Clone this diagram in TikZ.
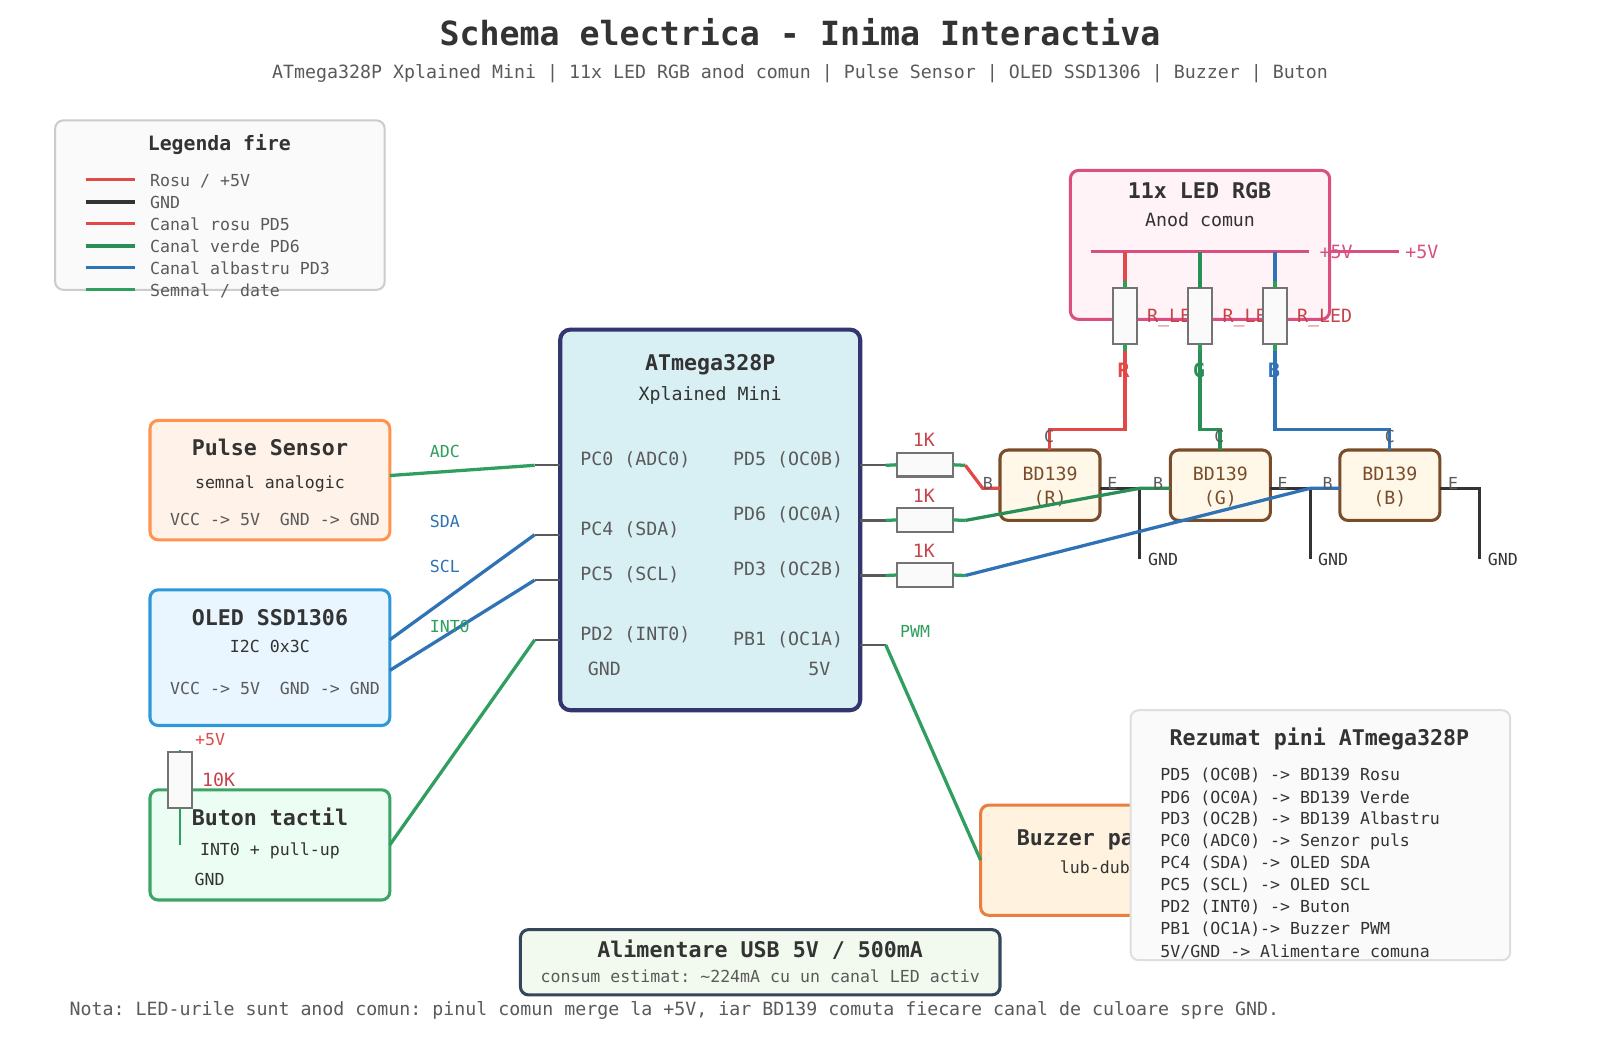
\documentclass[tikz,border=0pt]{standalone}
\usepackage{fontspec}
\setmainfont{DejaVu Sans Mono}
\usetikzlibrary{calc,positioning}
\definecolor{ink}{HTML}{333333}
\definecolor{graytxt}{HTML}{5A5A5A}
\definecolor{wirered}{HTML}{E24848}
\definecolor{wiregreen}{HTML}{2A8F57}
\definecolor{datagreen}{HTML}{2F9E5F}
\definecolor{wireblue}{HTML}{2F72B5}
\definecolor{labred}{HTML}{C5444A}
\definecolor{pinkline}{HTML}{D94F82}
\definecolor{brownline}{HTML}{7A4D2A}
\definecolor{mcunavy}{HTML}{33356F}
\definecolor{mcufill}{HTML}{D8F0F3}
\definecolor{pulseline}{HTML}{FF9350}
\definecolor{pulsefill}{HTML}{FFF2E8}
\definecolor{oledline}{HTML}{2E98D8}
\definecolor{oledfill}{HTML}{E9F6FF}
\definecolor{buttonline}{HTML}{3DA468}
\definecolor{buttonfill}{HTML}{ECFDF3}
\definecolor{buzzline}{HTML}{E97F3E}
\definecolor{buzzfill}{HTML}{FFF3E0}
\definecolor{ledfill}{HTML}{FFF3F8}
\definecolor{bdfill}{HTML}{FFF8E8}
\definecolor{alimline}{HTML}{34465A}
\definecolor{alimfill}{HTML}{F2F9EE}
\definecolor{panelfill}{HTML}{FAFAFA}
\tikzset{
  box/.style={draw, rounded corners=8pt, line width=3pt, inner sep=0pt, outer sep=0pt},
  res/.style={draw=black!55, fill=panelfill, line width=2.2pt, inner sep=0pt, outer sep=0pt},
  wire/.style={line width=3.2pt},
  stub/.style={line width=3.2pt, datagreen},
  pin/.style={line width=2.2pt, graytxt},
  head/.style={anchor=base, inner sep=0pt, text=ink, font=\bfseries\fontsize{21.2}{24}\selectfont},
  mid/.style={anchor=base, inner sep=0pt, font=\fontsize{17.9}{21}\selectfont},
  sm/.style={anchor=base, inner sep=0pt, font=\fontsize{16.25}{19}\selectfont},
}
\begin{document}
\frenchspacing
\begin{tikzpicture}[x=1pt,y=-1pt]
\useasboundingbox (0,0) rectangle (1568,1029);
\fill[white] (0,0) rectangle (1568,1029);
% title
\node[anchor=base, inner sep=0pt, text=ink, font=\bfseries\fontsize{32.6}{36}\selectfont] (title) at (784,45) {Schema electrica - Inima Interactiva};
\node[mid, text=graytxt] (subtitle) at (784,77) {ATmega328P Xplained Mini | 11x LED RGB anod comun | Pulse Sensor | OLED SSD1306 | Buzzer | Buton};
% legend
\node[box, draw=black!20, fill=panelfill, line width=2pt, minimum width=323pt, minimum height=166pt] (legendbox) at (215.5,201) {};
\node[head, font=\bfseries\fontsize{19.4}{23}\selectfont] (legendtitle) at (215,147.5) {Legenda fire};
\draw[wire, wirered] (84,176) -- (132,176);
\node[sm, anchor=base west, text=graytxt] (leg1) at (147,182.6) {Rosu / +5V};
\draw[wire, ink] (84,198) -- (132,198);
\node[sm, anchor=base west, text=graytxt] (leg2) at (147,204.3) {GND};
\draw[wire, wirered] (84,219) -- (132,219);
\node[sm, anchor=base west, text=graytxt] (leg3) at (147,225.6) {Canal rosu PD5};
\draw[wire, wiregreen] (84,241) -- (132,241);
\node[sm, anchor=base west, text=graytxt] (leg4) at (147,247.5) {Canal verde PD6};
\draw[wire, wireblue] (84,262.5) -- (132,262.5);
\node[sm, anchor=base west, text=graytxt] (leg5) at (147,269) {Canal albastru PD3};
\draw[wire, datagreen] (84,284) -- (132,284);
\node[sm, anchor=base west, text=graytxt] (leg6) at (147,290.6) {Semnal / date};
% left modules
\node[box, draw=pulseline, fill=pulsefill, minimum width=235pt, minimum height=117pt] (pulse) at (264.5,470.5) {};
\node[head] (pulsetitle) at (264.5,446.5) {Pulse Sensor};
\node[sm, text=ink] (pulsesub) at (264.5,479) {semnal analogic};
\node[sm, text=graytxt] (pulsepwr) at (269.5,515) {VCC -> 5V\ \ GND -> GND};
\node[box, draw=oledline, fill=oledfill, minimum width=235pt, minimum height=133pt] (oled) at (264.5,644.5) {};
\node[head] (oledtitle) at (264.5,612.5) {OLED SSD1306};
\node[sm, text=ink] (oledsub) at (264.5,639.5) {I2C 0x3C};
\node[sm, text=graytxt] (oledpwr) at (269.5,681) {VCC -> 5V\ \ GND -> GND};
\node[box, draw=buttonline, fill=buttonfill, minimum width=235pt, minimum height=108pt] (button) at (264.5,828) {};
% pull-up
\node[res, minimum width=24pt, minimum height=55pt] (pullup) at (176.5,764.5) {};
\coordinate (pulltop) at (176.5,734.5);
\coordinate (pullend) at (176.5,828);
\draw[line width=2.2pt, datagreen] (pulltop) -- (pullup.north);
\draw[line width=2.2pt, datagreen] (pullup.south) -- (pullend);
\node[sm, anchor=base west, text=wirered] (pullvcc) at (191,730.5) {+5V};
\node[mid, anchor=base west, text=labred] (pullval) at (198,770.5) {10K};
\node[head] (buttontitle) at (264.5,808.5) {Buton tactil};
\node[sm, text=ink] (buttonsub) at (264.5,838.5) {INT0 + pull-up};
\node[sm, text=ink] (buttongnd) at (205.5,867.5) {GND};
% mcu
\node[box, draw=mcunavy, fill=mcufill, line width=4pt, rounded corners=10pt, minimum width=294pt, minimum height=373pt] (chip) at (696,509.5) {};
\node[head] (chiptitle) at (696,363.5) {ATmega328P};
\node[mid, text=ink] (chipsub) at (696,392) {Xplained Mini};
\node[mid, anchor=base west, text=graytxt] (pc0) at (568.5,456) {PC0 (ADC0)};
\node[mid, anchor=base west, text=graytxt] (pc4) at (568.5,525) {PC4 (SDA)};
\node[mid, anchor=base west, text=graytxt] (pc5) at (568.5,569) {PC5 (SCL)};
\node[mid, anchor=base west, text=graytxt] (pd2) at (568.5,628) {PD2 (INT0)};
\node[mid, anchor=base west, text=graytxt] (cgnd) at (576,662) {GND};
\node[mid, anchor=base east, text=graytxt] (pd5) at (826.5,456) {PD5 (OC0B)};
\node[mid, anchor=base east, text=graytxt] (pd6) at (826.5,510) {PD6 (OC0A)};
\node[mid, anchor=base east, text=graytxt] (pd3) at (826.5,564) {PD3 (OC2B)};
\node[mid, anchor=base east, text=graytxt] (pb1) at (826.5,632.7) {PB1 (OC1A)};
\node[mid, anchor=base east, text=graytxt] (cvcc) at (814,662) {5V};
% pins
\coordinate (pc0a) at (549,456);
\coordinate (pc0b) at (524,456);
\coordinate (pc4a) at (549,524);
\coordinate (pc4b) at (524,524);
\coordinate (pc5a) at (549,568.5);
\coordinate (pc5b) at (524,568.5);
\coordinate (pd2a) at (549,627);
\coordinate (pd2b) at (524,627);
\coordinate (pd5a) at (843,456);
\coordinate (pd5b) at (868,456);
\coordinate (pd6a) at (843,510);
\coordinate (pd6b) at (868,510);
\coordinate (pd3a) at (843,564);
\coordinate (pd3b) at (868,564);
\coordinate (pb1a) at (843,632);
\coordinate (pb1b) at (868,632);
\draw[pin] (pc0a) -- (pc0b);
\draw[pin] (pc4a) -- (pc4b);
\draw[pin] (pc5a) -- (pc5b);
\draw[pin] (pd2a) -- (pd2b);
\draw[pin] (pd5a) -- (pd5b);
\draw[pin] (pd6a) -- (pd6b);
\draw[pin] (pd3a) -- (pd3b);
\draw[pin] (pb1a) -- (pb1b);
% wires to the left modules
\coordinate (pulseout) at (382,466);
\coordinate (sdaout) at (382,627);
\coordinate (sclout) at (382,657);
\draw[wire, datagreen] (pulseout) -- (pc0b);
\draw[wire, wireblue] (sdaout) -- (pc4b);
\draw[wire, wireblue] (sclout) -- (pc5b);
\draw[wire, datagreen] (button.east) -- (pd2b);
\node[sm, anchor=base west, text=datagreen] (adclab) at (421,448) {ADC};
\node[sm, anchor=base west, text=wireblue] (sdalab) at (421,516.5) {SDA};
\node[sm, anchor=base west, text=wireblue] (scllab) at (421,561) {SCL};
\node[sm, anchor=base west, text=datagreen] (intlab) at (421,619.5) {INT0};
% transistors
\node[box, draw=brownline, fill=bdfill, minimum width=98pt, minimum height=69pt] (qr) at (1029,475.5) {};
\node[mid, text=brownline] (qrname) at (1029,471) {BD139};
\node[mid, text=brownline] (qrtag) at (1029,494) {(R)};
\node[box, draw=brownline, fill=bdfill, minimum width=98pt, minimum height=69pt] (qg) at (1196,475.5) {};
\node[mid, text=brownline] (qgname) at (1196,471) {BD139};
\node[mid, text=brownline] (qgtag) at (1196,494) {(G)};
\node[box, draw=brownline, fill=bdfill, minimum width=98pt, minimum height=69pt] (qb) at (1362,475.5) {};
\node[mid, text=brownline] (qbname) at (1362,471) {BD139};
\node[mid, text=brownline] (qbtag) at (1362,494) {(B)};
% base resistors
\node[res, minimum width=55pt, minimum height=23pt] (r1) at (906.5,455.5) {};
\node[res, minimum width=55pt, minimum height=23pt] (r2) at (906.5,509.5) {};
\node[res, minimum width=55pt, minimum height=23pt] (r3) at (906.5,563.5) {};
\node[mid, text=labred] (r1lab) at (905.5,438) {1K};
\node[mid, text=labred] (r2lab) at (905.5,492) {1K};
\node[mid, text=labred] (r3lab) at (905.5,546) {1K};
\coordinate (r1out) at (946,456);
\coordinate (r2out) at (946,510);
\coordinate (r3out) at (946,564);
\draw[stub] (pd5b) -- (r1.west);
\draw[stub] (pd6b) -- (r2.west);
\draw[stub] (pd3b) -- (r3.west);
\draw[stub] (r1.east) -- (r1out);
\draw[stub] (r2.east) -- (r2out);
\draw[stub] (r3.east) -- (r3out);
\coordinate (qrb) at (980,478.5);
\coordinate (qgb) at (1147,478.5);
\coordinate (qbb) at (1313,478.5);
\coordinate (qrk) at (963,478.5);
\coordinate (qgk) at (1117,478.5);
\coordinate (qbk) at (1284,478.5);
% emitters
\coordinate (qre) at (1078,478.5);
\coordinate (qge) at (1245,478.5);
\coordinate (qbe) at (1411,478.5);
\coordinate (qrg) at (1117,548);
\coordinate (qgg) at (1284,548);
\coordinate (qbc) at (1450,478.5);
\coordinate (qbg) at (1450,548);
\draw[wire, ink] (qre) -- (qgk) -- (qrg);
\draw[wire, ink] (qge) -- (qbk) -- (qgg);
\draw[wire, ink] (qbe) -- (qbc) -- (qbg);
\node[sm, anchor=base west, text=ink] (gnd1) at (1125,554.5) {GND};
\node[sm, anchor=base west, text=ink] (gnd2) at (1291.5,554.5) {GND};
\node[sm, anchor=base west, text=ink] (gnd3) at (1458,554.5) {GND};
\draw[wire, wirered] (r1out) -- (qrk) -- (qrb);
\draw[wire, wiregreen] (r2out) -- (qgk) -- (qgb);
\draw[wire, wireblue] (r3out) -- (qbk) -- (qbb);
\node[sm, text=graytxt] (qrblab) at (968,479.5) {B};
\node[sm, text=graytxt] (qrelab) at (1090,479.5) {E};
\node[sm, text=graytxt] (qgblab) at (1135,479.5) {B};
\node[sm, text=graytxt] (qgelab) at (1257,479.5) {E};
\node[sm, text=graytxt] (qbblab) at (1301,479.5) {B};
\node[sm, text=graytxt] (qbelab) at (1424,479.5) {E};
% led block
\node[box, draw=pinkline, fill=ledfill, minimum width=254pt, minimum height=146pt] (ledbox) at (1176,240) {};
\node[head] (ledtitle) at (1175.5,194.5) {11x LED RGB};
\node[mid, text=ink] (ledsub) at (1176,222) {Anod comun};
\coordinate (railw) at (1069,246.5);
\coordinate (raile) at (1283,246.5);
\coordinate (feede) at (1371,246.5);
\draw[wire, pinkline] (railw) -- (raile);
\draw[wire, pinkline] (ledbox.east |- raile) -- (feede);
\node[mid, anchor=base west, text=pinkline] (rail5v) at (1293,253) {+5V};
\node[mid, anchor=base west, text=pinkline] (feed5v) at (1377,253) {+5V};
% channel R
\coordinate (rtop) at (1102.5,246.5);
\coordinate (rup) at (1102.5,275);
\coordinate (rdn) at (1102.5,344);
\coordinate (rbend) at (1102.5,421);
\coordinate (qrbend) at (1028.5,421);
\node[res, minimum width=23pt, minimum height=55pt] (rled) at (1102.5,309.5) {};
\draw[wire, wirered] (rtop) -- (rup);
\draw[stub] (rup) -- (rled.north);
\draw[stub] (rled.south) -- (rdn);
\draw[wire, wirered] (rdn) -- (rbend) -- (qrbend) -- (qrbend |- qr.north);
\node[mid, anchor=base west, text=labred] (rledlab) at (1124,316) {R\_LED};
% channel G
\coordinate (gtop) at (1176,246.5);
\coordinate (gup) at (1176,275);
\coordinate (gdn) at (1176,344);
\coordinate (gbend) at (1176,421);
\coordinate (qgbend) at (1195.5,421);
\node[res, minimum width=23pt, minimum height=55pt] (gled) at (1176,309.5) {};
\draw[wire, wiregreen] (gtop) -- (gled.north);
\draw[stub] (gled.south) -- (gdn);
\draw[wire, wiregreen] (gdn) -- (gbend) -- (qgbend) -- (qgbend |- qg.north);
\node[mid, anchor=base west, text=labred] (gledlab) at (1198,316) {R\_LED};
% channel B
\coordinate (btop) at (1249.5,246.5);
\coordinate (bup) at (1249.5,275);
\coordinate (bdn) at (1249.5,344);
\coordinate (bbend) at (1249.5,421);
\coordinate (qbbend) at (1362,421);
\node[res, minimum width=23pt, minimum height=55pt] (bled) at (1249.5,309.5) {};
\draw[wire, wireblue] (btop) -- (bup);
\draw[stub] (bup) -- (bled.north);
\draw[stub] (bled.south) -- (bdn);
\draw[wire, wireblue] (bdn) -- (bbend) -- (qbbend) -- (qbbend |- qb.north);
\node[mid, anchor=base west, text=labred] (bledlab) at (1271,316) {R\_LED};
\node[sm, text=graytxt] (qrclab) at (1028,433.5) {C};
\node[sm, text=graytxt] (qgclab) at (1195,433.5) {C};
\node[sm, text=graytxt] (qbclab) at (1362,433.5) {C};
\node[head, font=\bfseries\fontsize{19.4}{23}\selectfont, text=wirered] (rtag) at (1101,370) {R};
\node[head, font=\bfseries\fontsize{19.4}{23}\selectfont, text=wiregreen] (gtag) at (1175,370) {G};
\node[head, font=\bfseries\fontsize{19.4}{23}\selectfont, text=wireblue] (btag) at (1248.5,370) {B};
% buzzer
\node[box, draw=buzzline, fill=buzzfill, minimum width=224pt, minimum height=108pt] (buzzer) at (1073,843) {};
\draw[wire, datagreen] (pb1b) -- (buzzer.west);
\node[sm, anchor=base west, text=datagreen] (pwmlab) at (882,624.5) {PWM};
\node[head] (buzzertitle) at (1073,828.5) {Buzzer pasiv};
\node[sm, text=ink] (buzzersub) at (1073,856) {lub-dub};
% summary
\node[box, draw=black!13, fill=panelfill, line width=2pt, minimum width=372pt, minimum height=245pt] (summary) at (1294,818.5) {};
\node[head] (sumtitle) at (1293,730.5) {Rezumat pini ATmega328P};
\node[sm, anchor=base west, text=ink] (sum1) at (1137,765) {PD5 (OC0B) -> BD139 Rosu};
\node[sm, anchor=base west, text=ink] (sum2) at (1137,787) {PD6 (OC0A) -> BD139 Verde};
\node[sm, anchor=base west, text=ink] (sum3) at (1137,808) {PD3 (OC2B) -> BD139 Albastru};
\node[sm, anchor=base west, text=ink] (sum4) at (1137,830) {PC0 (ADC0) -> Senzor puls};
\node[sm, anchor=base west, text=ink] (sum5) at (1137,851.5) {PC4 (SDA) -> OLED SDA};
\node[sm, anchor=base west, text=ink] (sum6) at (1137,873) {PC5 (SCL) -> OLED SCL};
\node[sm, anchor=base west, text=ink] (sum7) at (1137,894.5) {PD2 (INT0) -> Buton};
\node[sm, anchor=base west, text=ink] (sum8) at (1137,916) {PB1 (OC1A)-> Buzzer PWM};
\node[sm, anchor=base west, text=ink] (sum9) at (1137,938) {5V/GND -> Alimentare comuna};
% supply and note
\node[box, draw=alimline, fill=alimfill, minimum width=470pt, minimum height=64pt] (alim) at (745,943) {};
\node[head] (alimtitle) at (745,938) {Alimentare USB 5V / 500mA};
\node[sm, text=graytxt] (alimsub) at (745,962.5) {consum estimat: \textasciitilde224mA cu un canal LED activ};
\node[mid, anchor=base west, text=graytxt] (note) at (68,995) {Nota: LED-urile sunt anod comun: pinul comun merge la +5V, iar BD139 comuta fiecare canal de culoare spre GND.};
\end{tikzpicture}
\end{document}
